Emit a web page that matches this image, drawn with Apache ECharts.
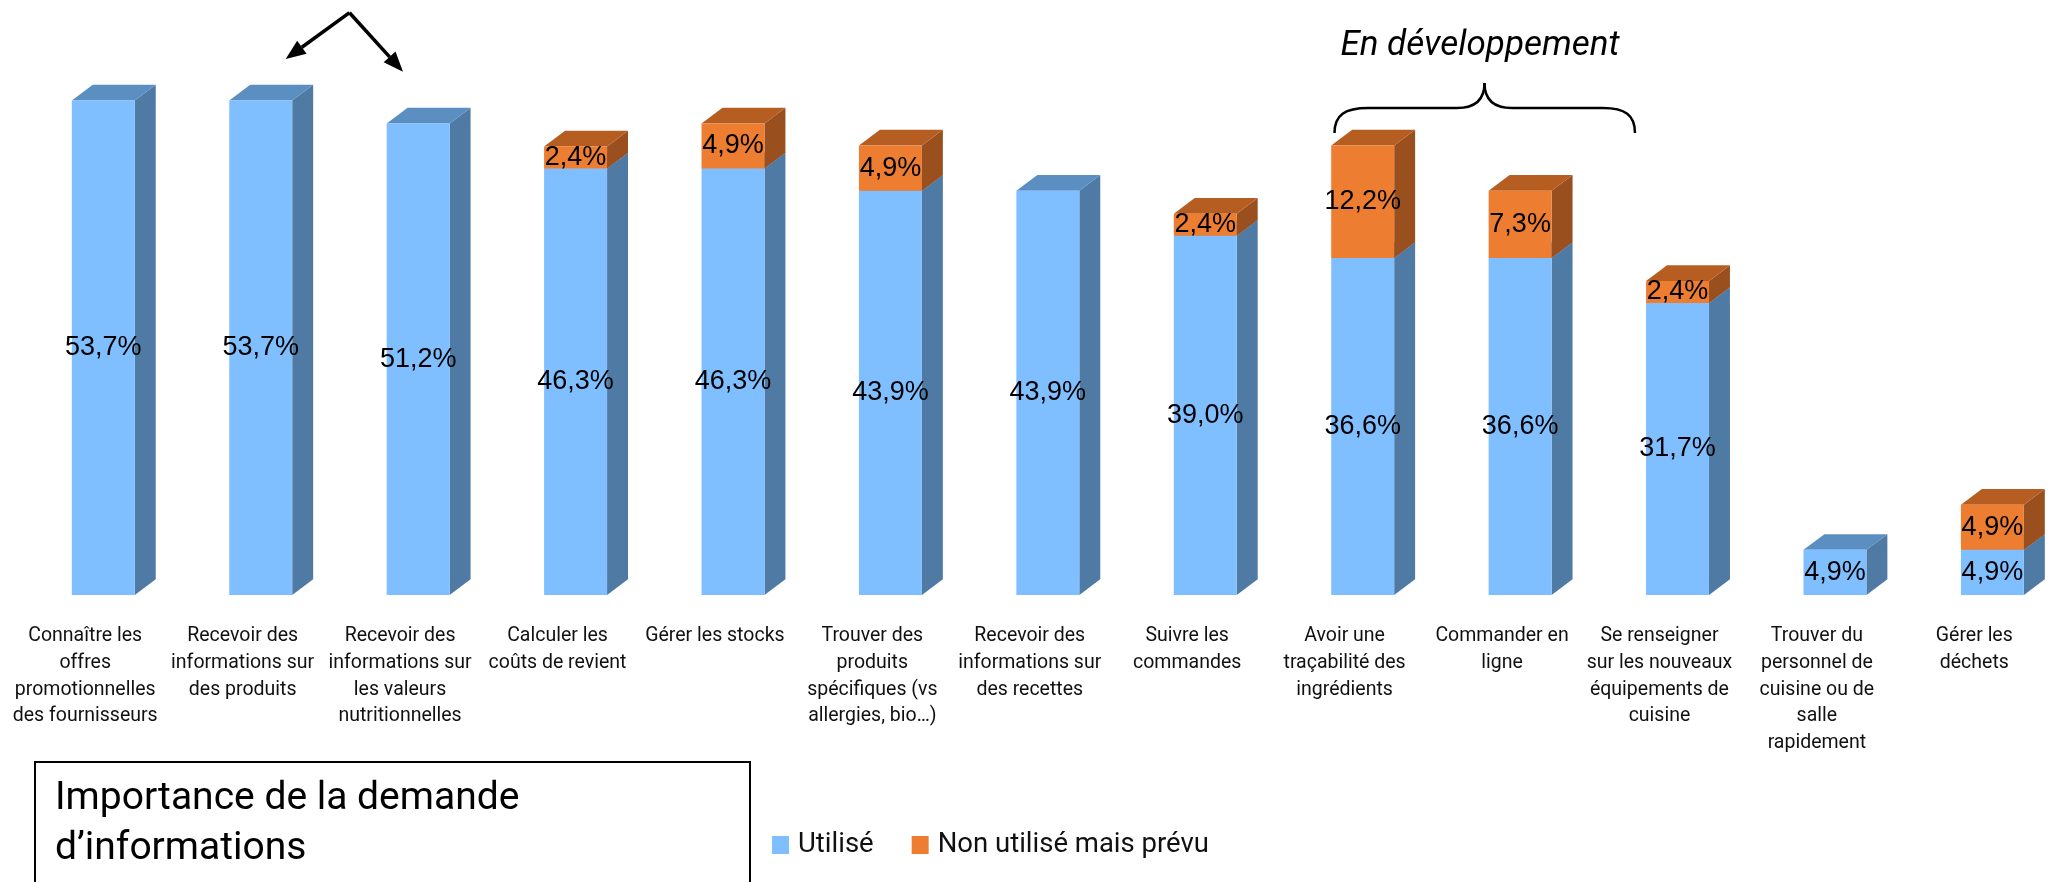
<!DOCTYPE html>
<html><head><meta charset="utf-8">
<script src="https://cdn.jsdelivr.net/npm/echarts@6/dist/echarts.min.js"></script>
<style>html,body{margin:0;padding:0;background:#fff;overflow:hidden}#c{width:2053px;height:882px}</style>
</head><body><div id="c"></div>
<script>
const categories = [
  'Connaître les\noffres\npromotionnelles\ndes fournisseurs',
  'Recevoir des\ninformations sur\ndes produits',
  'Recevoir des\ninformations sur\nles valeurs\nnutritionnelles',
  'Calculer les\ncoûts de revient',
  'Gérer les stocks',
  'Trouver des\nproduits\nspécifiques (vs\nallergies, bio…)',
  'Recevoir des\ninformations sur\ndes recettes',
  'Suivre les\ncommandes',
  'Avoir une\ntraçabilité des\ningrédients',
  'Commander en\nligne',
  'Se renseigner\nsur les nouveaux\néquipements de\ncuisine',
  'Trouver du\npersonnel de\ncuisine ou de\nsalle\nrapidement',
  'Gérer les\ndéchets'
];
const utilise = [53.7, 53.7, 51.2, 46.3, 46.3, 43.9, 43.9, 39.0, 36.6, 36.6, 31.7, 4.9, 4.9];
const prevu = [null, null, null, 2.4, 4.9, 4.9, null, 2.4, 12.2, 7.3, 2.4, null, 4.9];
const seriesNames = ['Utilisé', 'Non utilisé mais prévu'];
const titleLines = ['Importance de la demande', 'd’informations'];
const annotationText = 'En développement';

const BLUE = {front: '#7FBFFF', side: '#4F7AA4', top: '#5B8FC1'};
const ORANGE = {front: '#ED7D31', side: '#9A4F1E', top: '#B65E22'};

function fmt(v) { return v.toFixed(1).replace('.', ',') + '%'; }

function prism(col) {
  return function (params, api) {
    const i = api.value(0), v = api.value(1), base = api.value(2);
    if (!(v > 0)) return null;
    const band = api.size([1, 0])[0];
    const c0 = api.coord([i, base]);
    const c1 = api.coord([i, base + v]);
    const w = band * 0.4, dx = band * 0.133, dy = band * 0.1;
    const x = c0[0] + band * 0.115 - w / 2;
    const yT = c1[1], yB = c0[1];
    return {type: 'group', children: [
      {type: 'polygon', shape: {points: [[x + w, yT], [x + w + dx, yT - dy], [x + w + dx, yB - dy], [x + w, yB]]}, style: {fill: col.side}},
      {type: 'polygon', shape: {points: [[x, yT], [x + dx, yT - dy], [x + w + dx, yT - dy], [x + w, yT]]}, style: {fill: col.top}},
      {type: 'rect', shape: {x: x, y: yT, width: w, height: yB - yT}, style: {fill: col.front},
        textContent: {style: {text: fmt(v), fontSize: 27, fontFamily: 'Liberation Sans', fill: '#000'}},
        textConfig: {position: 'inside'}}
    ]};
  };
}

function arrow(from, tip) {
  const ang = Math.atan2(tip[1] - from[1], tip[0] - from[0]);
  const len = 20, hw = 8;
  const bx = tip[0] - len * Math.cos(ang), by = tip[1] - len * Math.sin(ang);
  const px = -Math.sin(ang) * hw, py = Math.cos(ang) * hw;
  return [
    {type: 'line', shape: {x1: from[0], y1: from[1], x2: bx, y2: by}, style: {stroke: '#000', lineWidth: 3.5}},
    {type: 'polygon', shape: {points: [tip, [bx + px, by + py], [bx - px, by - py]]}, style: {fill: '#000'}}
  ];
}

const braceStyle = {fill: 'none', stroke: '#000', lineWidth: 2.5};
function brace() {
  return [
    {type: 'bezierCurve', shape: {x1: 1334.5, y1: 133, cpx1: 1334.5, cpy1: 115, cpx2: 1345, cpy2: 108, x2: 1368, y2: 108}, style: braceStyle},
    {type: 'line', shape: {x1: 1368, y1: 108, x2: 1457, y2: 108}, style: braceStyle},
    {type: 'bezierCurve', shape: {x1: 1457, y1: 108, cpx1: 1475, cpy1: 108, cpx2: 1484.5, cpy2: 100, x2: 1484.5, y2: 83}, style: braceStyle},
    {type: 'bezierCurve', shape: {x1: 1484.5, y1: 83, cpx1: 1484.5, cpy1: 100, cpx2: 1494, cpy2: 108, x2: 1512, y2: 108}, style: braceStyle},
    {type: 'line', shape: {x1: 1512, y1: 108, x2: 1603, y2: 108}, style: braceStyle},
    {type: 'bezierCurve', shape: {x1: 1603, y1: 108, cpx1: 1625, cpy1: 108, cpx2: 1635, cpy2: 115, x2: 1635, y2: 133}, style: braceStyle}
  ];
}

const chart = echarts.init(document.getElementById('c'));
const FONT = 'Roboto';
chart.setOption({
  animation: false,
  backgroundColor: '#fff',
  grid: {left: 6.5, right: -22, top: 42.4, bottom: 287, containLabel: false},
  xAxis: {
    type: 'category', data: categories,
    axisLine: {show: false}, axisTick: {show: false}, splitLine: {show: false},
    axisLabel: {interval: 0, margin: 28, fontSize: 19.5, lineHeight: 26.7, fontFamily: FONT, color: '#111', align: 'center', verticalAlign: 'top'}
  },
  yAxis: {type: 'value', min: 0, max: 60, show: false, splitLine: {show: false}},
  legend: {
    data: seriesNames, left: 767, top: 826, icon: 'rect', itemWidth: 17, itemHeight: 18, itemGap: 38,
    textStyle: {fontSize: 27.5, fontFamily: FONT, color: '#111', padding: [0, 0, 0, 4]}
  },
  series: [
    {name: seriesNames[0], type: 'custom', renderItem: prism(BLUE), itemStyle: {color: BLUE.front},
      encode: {x: 0, y: 1}, clip: false, data: utilise.map((v, i) => [i, v, 0])},
    {name: seriesNames[1], type: 'custom', renderItem: prism(ORANGE), itemStyle: {color: ORANGE.front},
      encode: {x: 0, y: 1}, clip: false, data: prevu.map((v, i) => [i, v == null ? 0 : v, utilise[i]])}
  ],
  graphic: [
    {type: 'rect', shape: {x: 35, y: 762, width: 715, height: 200}, style: {fill: 'none', stroke: '#000', lineWidth: 2}},
    {type: 'text', x: 55, y: 799, style: {text: titleLines[0], fontSize: 39, fontFamily: FONT, fill: '#000', verticalAlign: 'middle'}},
    {type: 'text', x: 55, y: 849, style: {text: titleLines[1], fontSize: 39, fontFamily: FONT, fill: '#000', verticalAlign: 'middle'}},
    {type: 'text', x: 1480, y: 46, style: {text: annotationText, fontSize: 35, fontStyle: 'italic', fontFamily: FONT, fill: '#000', align: 'center', verticalAlign: 'middle'}}
  ].concat(brace(), arrow([349.5, 12.7], [285.7, 59]), arrow([349.5, 12.7], [403, 71.7]))
});
</script>
</body></html>
